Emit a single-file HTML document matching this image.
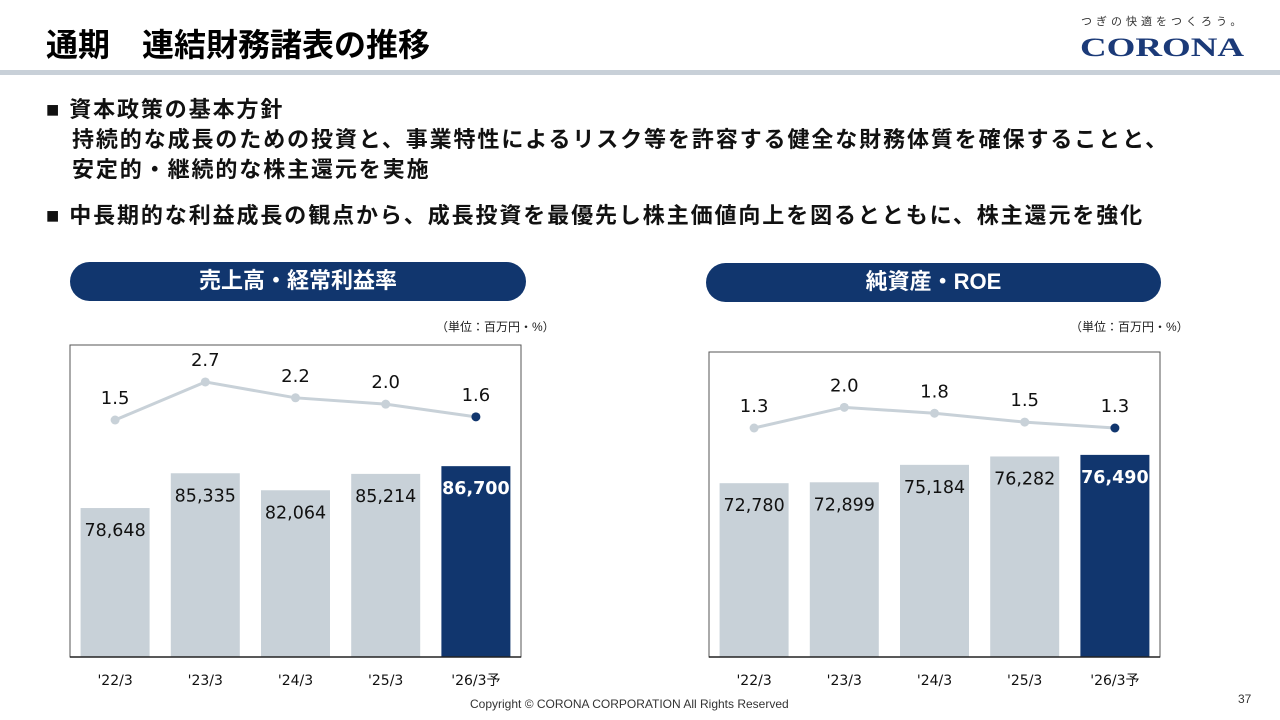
<!DOCTYPE html>
<html><head><meta charset="utf-8">
<style>
body{margin:0;width:1280px;height:720px;background:#fff;position:relative;overflow:hidden;font-family:"Liberation Sans","Noto Sans CJK JP",sans-serif;}
.abs{position:absolute;}
#title{left:46px;top:20px;font-size:32px;font-weight:bold;color:#000;}
#rule{left:0;top:70px;width:1280px;height:5px;background:#c8d0d8;}
.txt{font-size:22px;font-weight:bold;color:#111;white-space:nowrap;letter-spacing:1.9px;}
.pill{height:39px;border-radius:20px;background:#11366e;color:#fff;font-size:22px;font-weight:bold;text-align:center;line-height:37px;}
.unit{font-size:12px;color:#222;}
</style></head><body>
<div class="abs" id="title">通期　連結財務諸表の推移</div>
<div class="abs" style="left:1081px;top:13px;font-size:11px;color:#333;letter-spacing:4px">つぎの快適をつくろう。</div>
<div class="abs" style="left:1080px;top:33px;font-size:26px;font-weight:bold;color:#1b3a78;font-family:'Liberation Serif',serif;transform:scaleX(1.42);transform-origin:left top">CORONA</div>
<div class="abs" id="rule"></div>
<div class="abs txt" style="left:46px;top:92px">■ 資本政策の基本方針</div>
<div class="abs txt" style="left:72px;top:122px">持続的な成長のための投資と、事業特性によるリスク等を許容する健全な財務体質を確保することと、</div>
<div class="abs txt" style="left:72px;top:152px">安定的・継続的な株主還元を実施</div>
<div class="abs txt" style="left:46px;top:198px">■ 中長期的な利益成長の観点から、成長投資を最優先し株主価値向上を図るとともに、株主還元を強化</div>
<div class="abs pill" style="left:70px;top:262px;width:456px">売上高・経常利益率</div>
<div class="abs pill" style="left:706px;top:263px;width:455px">純資産・ROE</div>
<div class="abs unit" style="left:436px;top:318px">（単位：百万円・%）</div>
<div class="abs unit" style="left:1070px;top:318px">（単位：百万円・%）</div>
<svg class="abs" style="left:0;top:0" width="1280" height="720" id="svg"></svg>
<div class="abs" style="left:470px;top:697px;font-size:12px;color:#333">Copyright © CORONA CORPORATION All Rights Reserved</div>
<div class="abs" style="left:1238px;top:692px;font-size:12px;color:#333">37</div>
<script>
const categories=["'22/3","'23/3","'24/3","'25/3","'26/3予"];
const salesValues=[78648,85335,82064,85214,86700];
const salesLabels=["78,648","85,335","82,064","85,214","86,700"];
const marginValues=[1.5,2.7,2.2,2.0,1.6];
const marginLabels=["1.5","2.7","2.2","2.0","1.6"];
const equityValues=[72780,72899,75184,76282,76490];
const equityLabels=["72,780","72,899","75,184","76,282","76,490"];
const roeValues=[1.3,2.0,1.8,1.5,1.3];
const roeLabels=["1.3","2.0","1.8","1.5","1.3"];
const NS="http://www.w3.org/2000/svg";
const svg=document.getElementById('svg');
function mk(tag,attrs,parent){const e=document.createElementNS(NS,tag);for(const k in attrs)e.setAttribute(k,attrs[k]);(parent||svg).appendChild(e);return e;}
function chart(cfg){
  const g=mk('g',{});
  
  
  const fr=mk('rect',{x:cfg.x0,y:cfg.top,width:cfg.x1-cfg.x0,height:cfg.base-cfg.top,fill:'#fff',stroke:'#555','stroke-width':1},g);
  
  
  const step=(cfg.x1-cfg.x0)/5;
  const xc=i=>cfg.x0+step*(i+0.5);
  const yb=v=>cfg.base-(v-cfg.bmin)*cfg.bscale;
  const yl=v=>cfg.lref-(v-cfg.lv)*cfg.lscale;
  cfg.bars.forEach((v,i)=>{
    const last=i===4;
    const r=mk('rect',{x:xc(i)-34.5,y:yb(v),width:69,height:cfg.base-yb(v),fill:last?'#11366e':'#c8d1d8'},g);
    
    
    const t=mk('text',{x:xc(i),y:yb(v)+28,'text-anchor':'middle','font-size':17.5,fill:last?'#fff':'#111','font-weight':last?'bold':'normal','font-family':'DejaVu Sans, sans-serif'},g);
    t.textContent=cfg.barLabels[i];
    
    
    const c=mk('text',{x:xc(i),y:cfg.base+28,'text-anchor':'middle','font-size':14,fill:'#111','font-family':'DejaVu Sans, Noto Sans CJK JP, sans-serif'},g);
    c.textContent=categories[i];
    
    
  });
  const ax=mk('line',{x1:cfg.x0,x2:cfg.x1,y1:cfg.base,y2:cfg.base,stroke:'#222','stroke-width':1.5},g);
  
  
  const pl=mk('polyline',{points:cfg.line.map((v,i)=>xc(i)+','+yl(v)).join(' '),fill:'none',stroke:'#c8d1d8','stroke-width':3},g);
  
  
  cfg.line.forEach((v,i)=>{
    const p=mk('circle',{cx:xc(i),cy:yl(v),r:4.5,fill:i===4?'#11366e':'#c8d1d8'},g);
    
    
    const t=mk('text',{x:xc(i),y:yl(v)-16,'text-anchor':'middle','font-size':18,fill:'#111','font-family':'DejaVu Sans, sans-serif'},g);
    t.textContent=cfg.lineLabels[i];
    
    
  });
}
chart({name:'sales-chart',x0:70,x1:521,top:345,base:657,bmin:50000,bscale:0.0052,lref:420,lv:1.5,lscale:31.7,bars:salesValues,barLabels:salesLabels,line:marginValues,lineLabels:marginLabels});
chart({name:'equity-chart',x0:709,x1:1160,top:352,base:657,bmin:50000,bscale:0.00763,lref:428,lv:1.3,lscale:29.5,bars:equityValues,barLabels:equityLabels,line:roeValues,lineLabels:roeLabels});
</script>
</body></html>
